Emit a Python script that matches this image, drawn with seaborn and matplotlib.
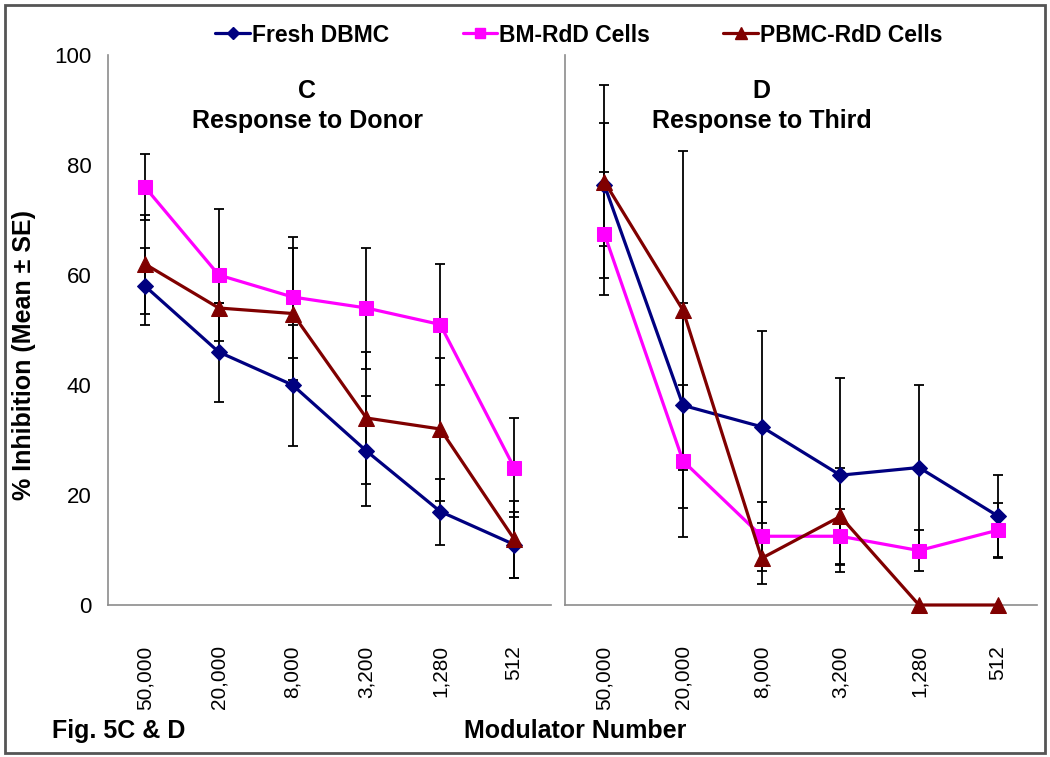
import numpy as np
import pandas as pd
import matplotlib
matplotlib.use("Agg")
import matplotlib.pyplot as plt
from matplotlib.lines import Line2D
from matplotlib.patches import Rectangle
import seaborn as sns

# ---------------- data ----------------
categories = ["50,000", "20,000", "8,000", "3,200", "1,280", "512"]
series_names = ["Fresh DBMC", "BM-RdD Cells", "PBMC-RdD Cells"]

# Panel C: Response to Donor
c_fresh = [58, 46, 40, 28, 17, 11]
c_fresh_err = [7, 9, 11, 10, 6, 6]
c_bm = [76, 60, 56, 54, 51, 25]
c_bm_err = [6, 12, 11, 11, 11, 9]
c_pbmc = [62, 54, 53, 34, 32, 12]
c_pbmc_err = [9, 1, 12, 12, 13, 7]

# Panel D: Response to Third
d_fresh = [76.4, 36.3, 32.4, 23.6, 25.0, 16.2]
d_fresh_err = [11.2, 18.7, 17.5, 17.6, 15.0, 7.4]
d_bm = [67.5, 26.2, 12.5, 12.5, 9.9, 13.6]
d_bm_err = [11.2, 13.8, 6.3, 5.0, 3.7, 5.0]
d_pbmc = [77.0, 53.6, 8.5, 16.1, 0.0, 0.0]
d_pbmc_err = [17.5, 29.0, 4.7, 8.9, 0.0, 0.0]

panel_titles = ["C\nResponse to Donor", "D\nResponse to Third"]

colors = {"Fresh DBMC": "#000080", "BM-RdD Cells": "#FF00FF", "PBMC-RdD Cells": "#800000"}
markers = {"Fresh DBMC": "D", "BM-RdD Cells": "s", "PBMC-RdD Cells": "^"}
msizes = {"Fresh DBMC": 8, "BM-RdD Cells": 10, "PBMC-RdD Cells": 11}

def make_df(fresh, fe, bm, be, pb, pe):
    rows = []
    for name, vals, errs in [("Fresh DBMC", fresh, fe), ("BM-RdD Cells", bm, be), ("PBMC-RdD Cells", pb, pe)]:
        for i, (v, e) in enumerate(zip(vals, errs)):
            rows.append({"pos": i, "cat": categories[i], "series": name, "value": v, "err": e})
    return pd.DataFrame(rows)

dfs = [make_df(c_fresh, c_fresh_err, c_bm, c_bm_err, c_pbmc, c_pbmc_err),
       make_df(d_fresh, d_fresh_err, d_bm, d_bm_err, d_pbmc, d_pbmc_err)]

# ---------------- figure ----------------
sns.set_style("white")
plt.rcParams["font.family"] = ["Liberation Sans", "DejaVu Sans"]
plt.rcParams["text.color"] = "black"
plt.rcParams["axes.labelcolor"] = "black"
plt.rcParams["xtick.labelcolor"] = "black"
plt.rcParams["ytick.labelcolor"] = "black"

W, H = 1050, 757
fig = plt.figure(figsize=(W / 100, H / 100), dpi=100)

def fx(px):
    return px / W

def fy(py):
    return 1 - py / H

ax_left = fig.add_axes([fx(108), fy(605), fx(551) - fx(108), fy(55) - fy(605)])
ax_right = fig.add_axes([fx(565), fy(605), fx(1037) - fx(565), fy(55) - fy(605)])

spine_col = "#8c8c8c"
title_x = [2.2, 2.0]

for k, (ax, df) in enumerate(zip([ax_left, ax_right], dfs)):
    # error bars
    for name in series_names:
        sub = df[(df.series == name) & (df.err > 0)]
        ax.errorbar(sub.pos, sub.value, yerr=sub.err, fmt="none", ecolor="black",
                    color="black", elinewidth=1.3, capsize=3.5, capthick=1.3, zorder=2)
    n_before = len(ax.lines)
    sns.lineplot(data=df, x="pos", y="value", hue="series", style="series",
                 hue_order=series_names, style_order=series_names,
                 palette=colors, markers=markers, dashes=False, linewidth=2.3,
                 legend=False, ax=ax, zorder=3)
    for line, name in zip(ax.lines[n_before:], series_names):
        c = colors[name]
        line.set_color(c)
        line.set_markeredgecolor(c)
        line.set_markerfacecolor(c)
        line.set_markersize(msizes[name])
        line.set_clip_on(False)

    ax.set_xlim(-0.5, 5.5)
    ax.set_ylim(0, 100)
    ax.set_xticks(np.arange(6))
    ax.set_xticklabels(categories, rotation=90, fontsize=15)
    ax.set_xticks(np.arange(-0.5, 6.0, 0.5), minor=True)
    ax.tick_params(axis="x", which="both", direction="out", length=6, width=1,
                   color=spine_col, pad=23)
    ax.set_xlabel("")
    ax.set_ylabel("")
    for s in ["top", "right"]:
        ax.spines[s].set_visible(False)
    for s in ["left", "bottom"]:
        ax.spines[s].set_color(spine_col)
        ax.spines[s].set_linewidth(1.2)
    ax.grid(False)
    ax.text(title_x[k], 95.6, panel_titles[k], ha="center", va="top", fontsize=18,
            fontweight="bold", linespacing=1.3, color="black")

# y ticks left
ax_left.set_yticks(np.arange(0, 101, 20))
ax_left.set_yticks(np.arange(0, 101, 4), minor=True)
ax_left.tick_params(axis="y", which="major", direction="inout", length=12, width=1,
                    color=spine_col, labelsize=16, pad=6)
ax_left.tick_params(axis="y", which="minor", direction="in", length=6, width=1, color=spine_col)

# y ticks right (no labels)
ax_right.set_yticks(np.arange(0, 101, 25))
ax_right.set_yticks(np.arange(0, 101, 5), minor=True)
ax_right.tick_params(axis="y", which="major", direction="inout", length=9, width=1,
                     color=spine_col, labelleft=False)
ax_right.tick_params(axis="y", which="minor", direction="in", length=4, width=1, color=spine_col)

# axis labels
fig.text(fx(24), fy(355), "% Inhibition (Mean \u00b1 SE)", rotation=90, ha="center",
         va="center", fontsize=18, fontweight="bold")
fig.text(fx(575), fy(731), "Modulator Number", ha="center", va="center",
         fontsize=18, fontweight="bold")
fig.text(fx(52), fy(731), "Fig. 5C & D", ha="left", va="center",
         fontsize=18, fontweight="bold")

# legend
handles = [Line2D([], [], color=colors[n], marker=markers[n], markersize=msizes[n] * 0.75,
                  markerfacecolor=colors[n], markeredgecolor=colors[n], linewidth=2.3)
           for n in series_names]
fig.legend(handles, series_names, loc="center", bbox_to_anchor=(fx(579), fy(35)),
           ncol=3, frameon=False, prop={"size": 16.5, "weight": "bold"},
           handlelength=1.5, handletextpad=0.1, columnspacing=3.2)

# figure frame
fig.add_artist(Rectangle((fx(5), fy(753)), fx(1045) - fx(5), fy(5) - fy(753),
                         transform=fig.transFigure, fill=False, edgecolor="#555555",
                         linewidth=2))

fig.savefig("out.png", dpi=100)
